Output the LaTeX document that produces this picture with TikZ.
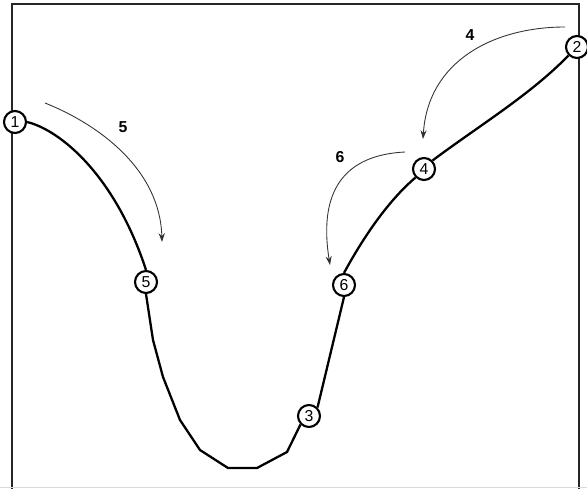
\documentclass[tikz,border=0pt]{standalone}
\usepackage{fontspec}
\setmainfont{Liberation Sans}
\usetikzlibrary{arrows.meta}

\tikzset{
	pt/.style={draw, circle, line width=1.2pt, fill=white, inner sep=0pt, minimum size=0.44cm, font=\small},
	track/.style={line width=1.3pt},
	move/.style={line width=0.5pt, black!80, -{Stealth[length=5pt,width=3.5pt]}},
	lbl/.style={font=\small\bfseries}
}

\begin{document}
\begin{tikzpicture}[x=0.02cm, y=-0.02cm]
	\useasboundingbox (0,0) rectangle (587,489);
	\draw[line width=1.3pt, black!85] (12,489) -- (12,4) -- (579,4) -- (579,489);
	\draw[black!15] (0,487) -- (587,487);

	\node[pt] (P1) at (15,122) {1};
	\node[pt] (P2) at (577,47) {2};
	\node[pt] (P3) at (309,416) {3};
	\node[pt] (P4) at (424,169) {4};
	\node[pt] (P5) at (146,282) {5};
	\node[pt] (P6) at (344,285) {6};

	% the track
	\draw[track] (P1.east) .. controls (60,130) and (115,175) .. (P5.north);
	\draw[track] (P5.south) -- (153,340) -- (163,377) -- (180,420) -- (200,450) -- (228,468) -- (257,468) -- (287,452) -- (P3.south west);
	\draw[track] (P3.north east) -- (P6.south);
	\draw[track] (P6.north) .. controls (370,225) and (395,195) .. (P4.south west);
	\draw[track] (P4.north east) .. controls (480,125) and (530,95) .. (P2.south west);

	\coordinate (a4) at (565,27);
	\coordinate (b4) at (423,139);
	\coordinate (a5) at (45,103);
	\coordinate (b5) at (162,242);
	\coordinate (a6) at (405,152);
	\coordinate (b6) at (330,265);
	\draw[move] (a4) .. controls (495,27) and (428,60) .. (b4);
	\draw[move] (a5) .. controls (100,125) and (160,170) .. (b5);
	\draw[move] (a6) .. controls (345,155) and (318,190) .. (b6);

	\node[lbl] (L4) at (470,35) {4};
	\node[lbl] (L5) at (123,127) {5};
	\node[lbl] (L6) at (340,157) {6};
\end{tikzpicture}
\end{document}
